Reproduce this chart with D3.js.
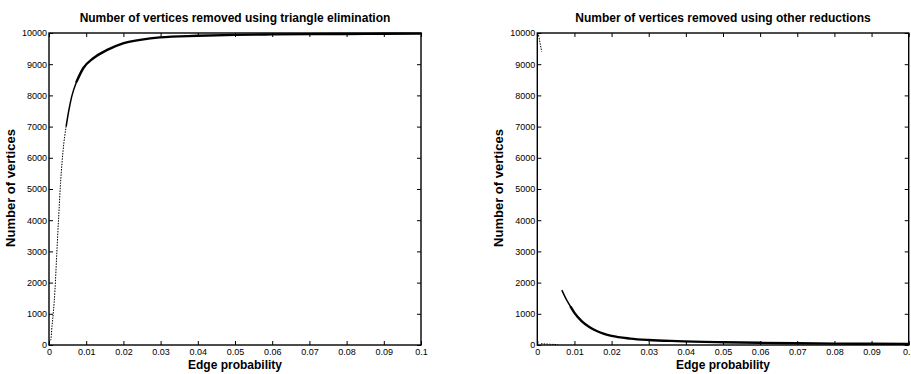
<!DOCTYPE html>
<html>
<head>
<meta charset="utf-8">
<script src="https://cdn.jsdelivr.net/npm/d3@7"></script>
<style>
  body { margin: 0; background: #fff; }
  svg { display: block; }
  .tick text { font-family: "Liberation Sans", Arial, sans-serif; font-size: 9px; fill: #000; }
  .tick line { stroke: #000; stroke-width: 1; }
  .title, .axis-label { font-family: "Liberation Sans", Arial, sans-serif; font-weight: bold; fill: #000; }
</style>
</head>
<body>
<div id="chart"></div>
<script>
// tick values shared by both panels
const X_TICKS = [0, 0.01, 0.02, 0.03, 0.04, 0.05, 0.06, 0.07, 0.08, 0.09, 0.1];
const Y_TICKS = [0, 1000, 2000, 3000, 4000, 5000, 6000, 7000, 8000, 9000, 10000];

// left panel: triangle elimination — sparse steep rise, thin knee, dense band
const TRI_STEEP_P = [0, 0.0002, 0.00046, 0.0008, 0.00116, 0.0016, 0.0021, 0.0026, 0.0031, 0.0038, 0.0046];
const TRI_STEEP_V = [0, 150, 160, 600, 1030, 1760, 2950, 4100, 5180, 6250, 7000];
const TRI_KNEE_P = [0.0046, 0.0053, 0.0061, 0.0074];
const TRI_KNEE_V = [7000, 7500, 7960, 8440];
const TRI_BAND_P = [0.0074, 0.0092, 0.0119, 0.0155, 0.0199, 0.0245, 0.0298, 0.04, 0.05, 0.06, 0.07, 0.08, 0.09, 0.1];
const TRI_BAND_V = [8440, 8870, 9190, 9450, 9670, 9780, 9860, 9910, 9940, 9955, 9965, 9970, 9975, 9980];

// right panel: other reductions
const OTHER_TOP_P = [0, 0.0003, 0.0007, 0.0012];
const OTHER_TOP_V = [10000, 9950, 9700, 9400];
const OTHER_LOW_P = [0.001, 0.0025, 0.004, 0.0055];
const OTHER_LOW_V = [40, 30, 20, 15];
const OTHER_HEAD_P = [0.0066, 0.008, 0.009];
const OTHER_HEAD_V = [1760, 1420, 1220];
const OTHER_BAND_P = [0.009, 0.01, 0.012, 0.014, 0.016, 0.018, 0.02, 0.025, 0.03, 0.0375, 0.05, 0.06, 0.07, 0.08, 0.09, 0.1];
const OTHER_BAND_V = [1220, 1030, 760, 580, 450, 355, 290, 205, 160, 125, 90, 70, 55, 45, 40, 35];

const zip = (ps, vs) => ps.map((p, i) => ({ p, v: vs[i] }));

const W = 911, H = 374;
const svg = d3.select("#chart").append("svg").attr("width", W).attr("height", H);

function drawPanel(cfg) {
  const x = d3.scaleLinear().domain([0, 0.1]).range([cfg.left, cfg.right]);
  const y = d3.scaleLinear().domain([0, 10000]).range([345, 33]);
  const g = svg.append("g");

  g.append("g").attr("transform", "translate(0,345)")
    .call(d3.axisBottom(x).tickValues(X_TICKS).tickSizeInner(-4).tickSizeOuter(0).tickPadding(4).tickFormat(d3.format("")))
    .call((a) => a.select(".domain").remove());
  g.append("g").attr("transform", "translate(0,33)")
    .call(d3.axisTop(x).tickValues(X_TICKS).tickSizeInner(-4).tickSizeOuter(0).tickFormat(""))
    .call((a) => a.select(".domain").remove());
  g.append("g").attr("transform", `translate(${cfg.left},0)`)
    .call(d3.axisLeft(y).tickValues(Y_TICKS).tickSizeInner(-4).tickSizeOuter(0).tickPadding(2).tickFormat(d3.format("d")))
    .call((a) => a.select(".domain").remove());
  g.append("g").attr("transform", `translate(${cfg.right},0)`)
    .call(d3.axisRight(y).tickValues(Y_TICKS).tickSizeInner(-4).tickSizeOuter(0).tickFormat(""))
    .call((a) => a.select(".domain").remove());

  g.append("rect")
    .attr("x", cfg.left).attr("y", 33)
    .attr("width", cfg.right - cfg.left).attr("height", 312)
    .attr("fill", "none").attr("stroke", "#000").attr("stroke-width", 1.4);

  const line = d3.line().x((d) => x(d.p)).y((d) => y(d.v)).curve(d3.curveMonotoneX);

  cfg.sparse.forEach((s) => {
    g.append("path").datum(s)
      .attr("d", line).attr("fill", "none")
      .attr("stroke", "#000").attr("stroke-width", 1)
      .attr("stroke-dasharray", "1.5,1.2");
  });
  cfg.thin.forEach((s) => {
    g.append("path").datum(s)
      .attr("d", line).attr("fill", "none")
      .attr("stroke", "#000").attr("stroke-width", 1.5);
  });
  cfg.dense.forEach((s) => {
    g.append("path").datum(s)
      .attr("d", line).attr("fill", "none")
      .attr("stroke", "#000").attr("stroke-width", 2.4)
      .attr("stroke-linecap", "round");
  });

  const mid = (cfg.left + cfg.right) / 2;
  g.append("text").attr("class", "title")
    .attr("x", mid).attr("y", 22).attr("text-anchor", "middle")
    .style("font-size", "12px").text(cfg.title);
  g.append("text").attr("class", "axis-label")
    .attr("x", mid).attr("y", 369).attr("text-anchor", "middle")
    .style("font-size", "12px").text("Edge probability");
  g.append("text").attr("class", "axis-label")
    .attr("transform", `translate(${cfg.left - 34},188) rotate(-90)`)
    .attr("text-anchor", "middle")
    .style("font-size", "13px").text("Number of vertices");
}

drawPanel({
  left: 49, right: 421,
  title: "Number of vertices removed using triangle elimination",
  sparse: [zip(TRI_STEEP_P, TRI_STEEP_V)],
  thin: [zip(TRI_KNEE_P, TRI_KNEE_V)],
  dense: [zip(TRI_BAND_P, TRI_BAND_V)],
});

drawPanel({
  left: 537.3, right: 908.7,
  title: "Number of vertices removed using other reductions",
  sparse: [zip(OTHER_TOP_P, OTHER_TOP_V), zip(OTHER_LOW_P, OTHER_LOW_V)],
  thin: [zip(OTHER_HEAD_P, OTHER_HEAD_V)],
  dense: [zip(OTHER_BAND_P, OTHER_BAND_V)],
});
</script>
</body>
</html>
